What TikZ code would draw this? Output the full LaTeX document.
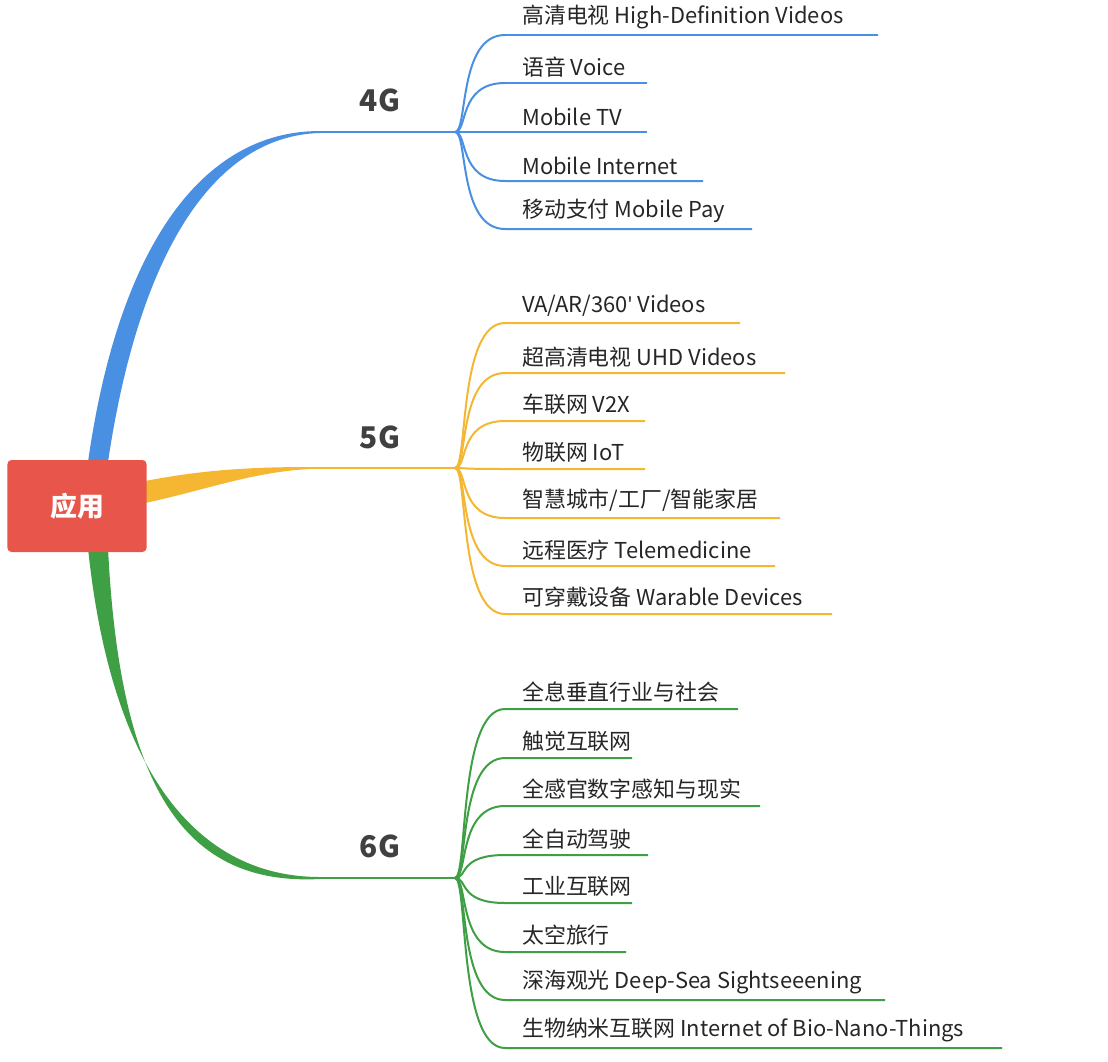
\documentclass[tikz,border=0pt]{standalone}
\usepackage{fontspec}
\setmainfont{Noto Sans CJK SC}
\newfontfamily\latf{Open Sans}
\begin{document}
\begin{tikzpicture}[x=1bp,y=-1bp,
  item/.style={anchor=south west,inner sep=0pt,font=\fontsize{22}{24}\selectfont,text=black!85},
  glabel/.style={font=\fontsize{30}{34}\selectfont\bfseries,text=black!75},
  sub/.style={line width=2pt}]
\useasboundingbox[fill=white] (0,0) rectangle (1108,1062);
\definecolor{cb}{HTML}{4A90E2}\definecolor{cy}{HTML}{F5B731}\definecolor{cg}{HTML}{3E9F45}\definecolor{cr}{HTML}{E8554A}
% main branches
\fill[cb] (88,462) .. controls (118,250) and (200,131) .. (320,131) -- (320,133) .. controls (210,136) and (138,260) .. (108,462) -- cycle;
\fill[cy] (140,482) .. controls (200,470) and (250,467) .. (310,467) -- (310,469) .. controls (250,472) and (200,492) .. (140,504) -- cycle;
\fill[cg] (88,548) .. controls (110,760) and (190,877) .. (320,877) -- (320,879) .. controls (185,886) and (120,790) .. (108,548) -- cycle;
\node[fill=cr,rounded corners=4bp,minimum width=139bp,minimum height=92bp,text=white,font=\fontsize{27}{30}\selectfont\bfseries] (root) at (77,506) {应用};
\coordinate (h4) at (455,132);\coordinate (h5) at (455,468);\coordinate (h6) at (455,878);
\draw[cb,sub] (319,132) -- (h4);\draw[cy,sub] (309,468) -- (h5);\draw[cg,sub] (319,878) -- (h6);
\node[glabel] (g4) at (380,100) {4G};
\node[glabel] (g5) at (380,437) {5G};
\node[glabel] (g6) at (380,846) {6G};
\foreach \y/\e/\t [count=\i] in {35/878/{高清电视 High-Definition Videos},83/647/{语音 Voice},132/647/{Mobile TV},181/703/{Mobile Internet},229/752/{移动支付 Mobile Pay}}{
  \draw[cb,sub] (h4) .. controls (468,132) and (458,\y) .. (505,\y) -- (\e,\y);
  \node[item] (a\i) at (522,\y-6) {\t};}
\foreach \y/\e/\t [count=\i] in {323/740/{VA/AR/360{\latf\char"27} Videos},373/785/{超高清电视 UHD Videos},421/645/{车联网 V2X},469/645/{物联网 IoT},518/780/{智慧城市/工厂/智能家居},566/775/{远程医疗 Telemedicine},614/832/{可穿戴设备 Warable Devices}}{
  \draw[cy,sub] (h5) .. controls (468,468) and (458,\y) .. (505,\y) -- (\e,\y);
  \node[item] (b\i) at (522,\y-6) {\t};}
\foreach \y/\e/\t [count=\i] in {709/738/{全息垂直行业与社会},758/632/{触觉互联网},806/760/{全感官数字感知与现实},855/648/{全自动驾驶},903/632/{工业互联网},952/626/{太空旅行},1000/885/{深海观光 Deep-Sea Sightseeening},1048/1002/{生物纳米互联网 Internet of Bio-Nano-Things}}{
  \draw[cg,sub] (h6) .. controls (468,878) and (458,\y) .. (505,\y) -- (\e,\y);
  \node[item] (c\i) at (522,\y-6) {\t};}
\end{tikzpicture}
\end{document}
